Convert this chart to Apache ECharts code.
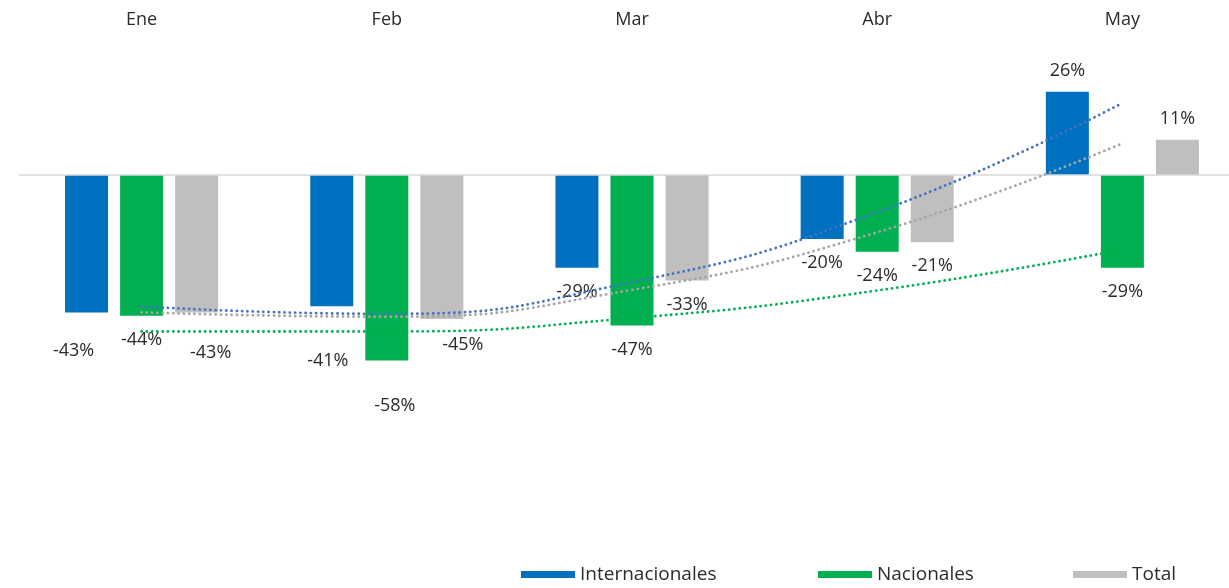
<!DOCTYPE html>
<html>
<head>
<meta charset="utf-8">
<script src="https://cdn.jsdelivr.net/npm/echarts@6/dist/echarts.min.js"></script>
<style>
  html, body { margin: 0; padding: 0; background: #fff; }
  #chart { width: 1229px; height: 588px; }
</style>
</head>
<body>
<div id="chart"></div>
<script>
const months = ["Ene", "Feb", "Mar", "Abr", "May"];
const internacionales = [-43, -41, -29, -20, 26];
const nacionales = [-44, -58, -47, -24, -29];
const total = [-43, -45, -33, -21, 11];
// tendencias (polinómicas), una por mes
const trendInternacionales = [-41.1, -43.4, -33.5, -11.6, 22.5];
const trendNacionales = [-48.9, -48.9, -44.7, -36.1, -23.3];
const trendTotal = [-42.9, -44.3, -35.9, -17.9, 9.9];

// desplazamientos manuales de etiquetas (como en el original)
const labelNudge = {
  Internacionales: { 0: [-13, 14], 1: [-4, 31] },
  Nacionales: { 1: [8, 21] },
  Total: { 0: [14, 16], 1: [21, 2] },
};

const textColor = "#2b2b2b";
const font = "'Open Sans', sans-serif";

function barData(name, values) {
  return values.map((v, i) => {
    const nudge = (labelNudge[name] || {})[i] || [0, 0];
    return {
      value: v,
      label: {
        position: v < 0 ? "bottom" : "top",
        distance: v < 0 ? 15 : 12,
        offset: nudge,
      },
    };
  });
}

function barSeries(name, values, color) {
  return {
    name: name,
    type: "bar",
    barWidth: 43,
    barGap: "28%",
    itemStyle: { color: color },
    label: {
      show: true,
      color: textColor,
      fontFamily: font,
      fontSize: 18,
      formatter: (p) => p.value + "%",
    },
    data: barData(name, values),
    z: 2,
  };
}

function trendSeries(values, color) {
  return {
    type: "line",
    data: values,
    smooth: 0.5,
    symbol: "none",
    silent: true,
    lineStyle: { color: color, width: 2.8, type: [0.1, 5.2], cap: "round" },
    z: 5,
  };
}

function legendAt(name, left) {
  return {
    data: [name],
    left: left,
    top: 565,
    padding: 0,
    icon: "rect",
    itemWidth: 54,
    itemHeight: 7,
    textStyle: { color: textColor, fontFamily: font, fontSize: 19 },
  };
}

const chart = echarts.init(document.getElementById("chart"));
const intSeries = barSeries("Internacionales", internacionales, "#0070C0");
intSeries.markLine = {
  silent: true,
  symbol: "none",
  label: { show: false },
  lineStyle: { color: "#D9D9D9", width: 1.5, type: "solid" },
  data: [{ yAxis: 0 }],
};

chart.setOption({
  animation: false,
  backgroundColor: "#fff",
  grid: { left: 19, width: 1226, top: 47, height: 448, outerBoundsMode: "none", containLabel: false },
  legend: [
    legendAt("Internacionales", 521),
    legendAt("Nacionales", 818),
    legendAt("Total", 1073),
  ],
  xAxis: {
    type: "category",
    position: "top",
    data: months,
    axisLine: { show: false },
    axisTick: { show: false },
    axisLabel: { color: textColor, fontFamily: font, fontSize: 18, margin: 18 },
  },
  yAxis: {
    type: "value",
    min: -100,
    max: 40,
    show: false,
  },
  series: [
    intSeries,
    barSeries("Nacionales", nacionales, "#00B050"),
    barSeries("Total", total, "#BFBFBF"),
    trendSeries(trendInternacionales, "#4472C4"),
    trendSeries(trendNacionales, "#00B050"),
    trendSeries(trendTotal, "#A5A5A5"),
  ],
});
</script>
</body>
</html>
